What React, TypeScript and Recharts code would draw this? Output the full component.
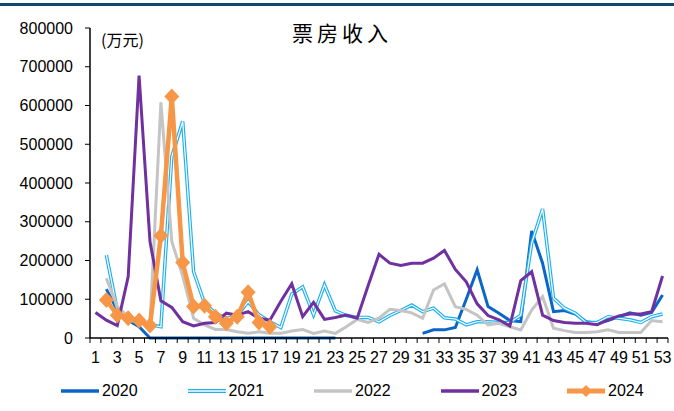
import React from 'react';
import { LineChart, Line, XAxis, YAxis } from 'recharts';

// Weekly box office, unit: 10k yuan
const weeks = Array.from({ length: 53 }, (_, i) => i + 1);

const y2020 = [
  null, 126000, 72000, 46000, 29000, 0, 0, 0, 0, 0,
  0, 0, 0, 0, 0, 0, 0, 0, 0, 0,
  0, 0, 0, null, null, null, null, null, null, null,
  12000, 21000, 21000, 27000, 100000, 176000, 81000, 64000, 45000, 42000,
  276000, 193000, 68000, 71000, 62000, 42000, 38000, 45000, 55000, 65000,
  59000, 66000, 111000,
];

const y2021 = [
  null, 214000, 72000, 46000, 39000, 34000, 29000, 468000, 559000, 171000,
  90000, 64000, 50000, 58000, 94000, 60000, 42000, 27000, 113000, 132000,
  60000, 137000, 70000, 58000, 53000, 53000, 42000, 58000, 71000, 85000,
  68000, 77000, 52000, 49000, 34000, 42000, 42000, 40000, 40000, 59000,
  245000, 333000, 103000, 77000, 64000, 40000, 40000, 55000, 51000, 47000,
  40000, 55000, 62000,
];

const y2022 = [
  null, 154000, 81000, 55000, 40000, 35000, 608000, 249000, 160000, 51000,
  34000, 22000, 22000, 16000, 12000, 16000, 12000, 12000, 18000, 22000,
  12000, 18000, 12000, 29000, 48000, 40000, 51000, 74000, 71000, 65000,
  51000, 124000, 140000, 81000, 74000, 59000, 34000, 38000, 29000, 21000,
  72000, 107000, 25000, 19000, 14000, 14000, 16000, 21000, 14000, 14000,
  14000, 45000, 42000,
];

const y2023 = [
  66000, 46000, 32000, 158000, 677000, 249000, 96000, 79000, 42000, 31000,
  38000, 40000, 64000, 59000, 68000, 51000, 46000, 95000, 140000, 55000,
  92000, 48000, 53000, 59000, 51000, 135000, 216000, 193000, 187000, 193000,
  193000, 206000, 226000, 177000, 145000, 88000, 58000, 47000, 31000, 148000,
  171000, 59000, 45000, 40000, 38000, 38000, 34000, 47000, 57000, 62000,
  62000, 68000, 160000,
];

const y2024 = [
  null, 98000, 59000, 51000, 45000, 32000, 264000, 623000, 195000, 81000,
  83000, 55000, 38000, 55000, 118000, 40000, 29000,
];

const yTicks = [0, 100000, 200000, 300000, 400000, 500000, 600000, 700000, 800000];
const seriesNames = ['2020', '2021', '2022', '2023', '2024'];

const data = weeks.map((w, i) => ({
  week: w,
  '2020': y2020[i],
  '2021': y2021[i],
  '2022': y2022[i],
  '2023': y2023[i],
  '2024': i < y2024.length ? y2024[i] : null,
}));

// labels sit on odd weeks, tick marks on the boundaries between weeks
const xTicks: number[] = [];
for (let w = 0.5; w <= 53.5; w += 0.5) xTicks.push(w);

const FONT = '"Liberation Sans", Arial, sans-serif';
const COLORS: Record<string, string> = {
  '2020': '#0a66c8',
  '2021': '#1eb0ee',
  '2022': '#c4c4c4',
  '2023': '#7030a0',
  '2024': '#f79646',
};

const WeekTick = (props: any) => {
  const { x, y, payload } = props;
  const v = payload.value;
  if (!Number.isInteger(v)) {
    return <line x1={x} x2={x} y1={y} y2={y + 5} stroke="#000" strokeWidth={1} />;
  }
  if (v % 2 === 0) return <g />;
  return (
    <text x={x} y={y + 25} textAnchor="middle" fontSize={16} fontFamily={FONT} fill="#000">
      {v}
    </text>
  );
};

const Diamond = (props: any) => {
  const { cx, cy, value } = props;
  if (value == null || cx == null || cy == null) return <g key={props.key} />;
  const w = 7.5;
  const h = 8;
  return (
    <polygon
      key={props.key}
      points={`${cx},${cy - h} ${cx + w},${cy} ${cx},${cy + h} ${cx - w},${cy}`}
      fill={COLORS['2024']}
    />
  );
};

function LegendSwatch({ name }: { name: string }) {
  const c = COLORS[name];
  return (
    <svg width={40} height={12} style={{ display: 'block' }}>
      {name === '2021' ? (
        <>
          <line x1={1} x2={39} y1={6} y2={6} stroke={c} strokeWidth={4} />
          <line x1={1} x2={39} y1={6} y2={6} stroke="#fff" strokeWidth={1.3} />
        </>
      ) : (
        <line x1={1} x2={39} y1={6} y2={6} stroke={c} strokeWidth={name === '2024' ? 5 : 3.5} />
      )}
      {name === '2024' && <polygon points="20,0 26,6 20,12 14,6" fill={c} />}
    </svg>
  );
}

export default function App() {
  return (
    <div style={{ position: 'absolute', left: 0, top: 0, width: 674, height: 411, background: '#fff' }}>
      <div style={{ position: 'absolute', left: 0, top: 3, width: 674, height: 3, background: '#0c4a6e' }} />
      <div
        style={{
          position: 'absolute',
          left: 292,
          top: 17,
          fontSize: 21,
          letterSpacing: 4,
          fontFamily: '"Noto Sans CJK SC", sans-serif',
          color: '#000',
        }}
      >
        票房收入
      </div>
      <div
        style={{
          position: 'absolute',
          left: 101,
          top: 27,
          fontSize: 16,
          fontFamily: '"Noto Sans CJK SC", sans-serif',
          color: '#000',
        }}
      >
        (万元)
      </div>
      <LineChart width={674} height={411} data={data} margin={{ top: 28, right: 6, left: 10, bottom: 48 }}>
        <XAxis
          dataKey="week"
          type="number"
          domain={[0.5, 53.5]}
          ticks={xTicks}
          interval={0}
          tick={WeekTick}
          tickLine={false}
          tickSize={0}
          tickMargin={0}
          height={25}
          axisLine={{ stroke: '#000', strokeWidth: 1.5 }}
        />
        <YAxis
          domain={[0, 800000]}
          ticks={yTicks}
          interval={0}
          width={80}
          tickSize={5}
          tickMargin={12}
          axisLine={{ stroke: '#000', strokeWidth: 1.5 }}
          tickLine={{ stroke: '#000' }}
          tick={{ fontSize: 16, fontFamily: FONT, fill: '#000' }}
        />
        <Line dataKey="2020" stroke={COLORS['2020']} strokeWidth={3} dot={false} activeDot={false} isAnimationActive={false} />
        <Line dataKey="2021" stroke={COLORS['2021']} strokeWidth={3.5} dot={false} activeDot={false} isAnimationActive={false} />
        <Line dataKey="2021" stroke="#ffffff" strokeWidth={1.2} dot={false} activeDot={false} legendType="none" isAnimationActive={false} />
        <Line dataKey="2022" stroke={COLORS['2022']} strokeWidth={3} dot={false} activeDot={false} isAnimationActive={false} />
        <Line dataKey="2023" stroke={COLORS['2023']} strokeWidth={3} dot={false} activeDot={false} isAnimationActive={false} />
        <Line dataKey="2024" stroke={COLORS['2024']} strokeWidth={4.5} dot={Diamond} activeDot={false} isAnimationActive={false} />
      </LineChart>
      {seriesNames.map((name, i) => (
        <div
          key={name}
          style={{
            position: 'absolute',
            left: 60 + i * 126.5,
            top: 382,
            display: 'flex',
            alignItems: 'center',
            gap: 2,
            fontSize: 16,
            fontFamily: FONT,
            color: '#000',
          }}
        >
          <LegendSwatch name={name} />
          <span>{name}</span>
        </div>
      ))}
    </div>
  );
}
